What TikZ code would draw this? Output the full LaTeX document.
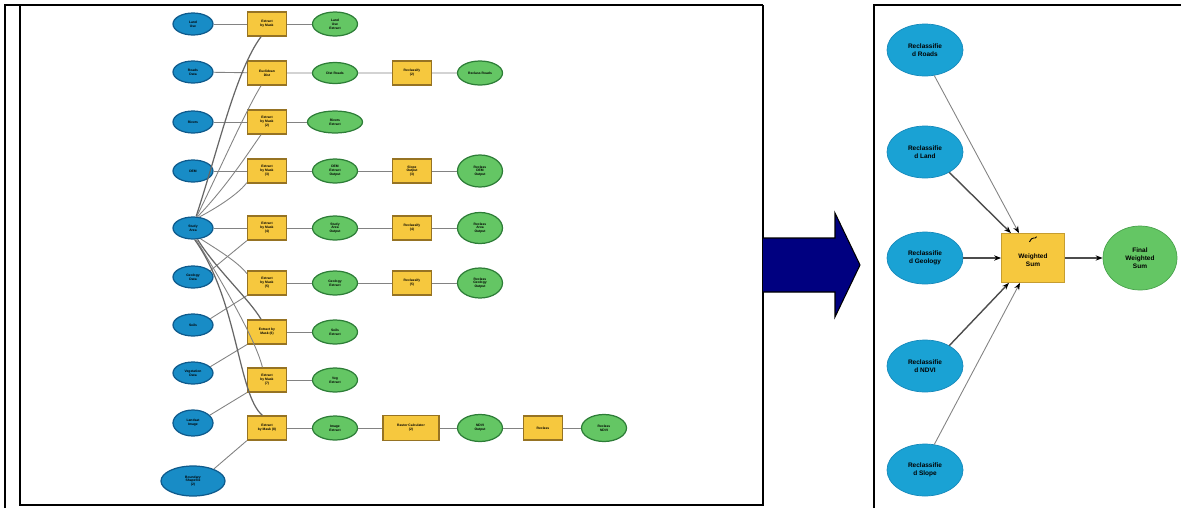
\documentclass[tikz,border=0pt]{standalone}
\usepackage{fontspec}
\setmainfont{Liberation Sans}
\usetikzlibrary{shapes.geometric,arrows.meta}
\newlength{\pxu}\setlength{\pxu}{0.02cm}
\definecolor{inblue}{RGB}{24,140,198}
\definecolor{inblueD}{RGB}{14,90,140}
\definecolor{rblue}{RGB}{26,162,212}
\definecolor{rblueD}{RGB}{20,120,170}
\definecolor{toolY}{RGB}{246,200,62}
\definecolor{toolD}{RGB}{150,115,35}
\definecolor{outG}{RGB}{100,198,100}
\definecolor{outGD}{RGB}{45,125,55}
\definecolor{linkG}{RGB}{130,130,130}
\definecolor{navyA}{RGB}{0,0,128}
\begin{document}
\begin{tikzpicture}[x=0.02cm,y=-0.02cm,
  frameline/.style={line width=1.3pt,black},
  inL/.style={ellipse,fill=inblue,draw=inblueD,line width=0.7pt,inner sep=0pt,minimum width=40\pxu,minimum height=22\pxu,font=\fontsize{1.9}{2.2}\selectfont\bfseries,align=center},
  toolL/.style={rectangle,fill=toolY,draw=toolD,line width=0.7pt,inner sep=0pt,minimum width=39\pxu,minimum height=24\pxu,font=\fontsize{1.9}{2.2}\selectfont\bfseries,align=center},
  outL/.style={ellipse,fill=outG,draw=outGD,line width=0.7pt,inner sep=0pt,minimum width=45\pxu,minimum height=24\pxu,font=\fontsize{1.9}{2.2}\selectfont\bfseries,align=center},
  linkL/.style={draw=linkG,line width=0.5pt},
  linkLd/.style={draw=gray!80!black,line width=0.7pt},
  inR/.style={ellipse,fill=rblue,draw=rblueD!60!rblue,line width=0.4pt,inner sep=0pt,minimum width=76\pxu,minimum height=52\pxu,font=\fontsize{3.7}{4.5}\selectfont\bfseries,align=center},
  toolR/.style={rectangle,fill=toolY,draw=toolD!50!toolY,line width=0.4pt,inner sep=0pt,minimum width=63\pxu,minimum height=49\pxu,font=\fontsize{3.7}{4.5}\selectfont\bfseries,align=center},
  outR/.style={ellipse,fill=outG,draw=outGD!50!outG,line width=0.4pt,inner sep=0pt,minimum width=74\pxu,minimum height=64\pxu,font=\fontsize{3.7}{4.5}\selectfont\bfseries,align=center},
  linkR/.style={draw=linkG,line width=0.5pt,-{Stealth[length=4pt,width=3pt,color=black]}},
  linkRd/.style={draw=gray!60!black,line width=0.8pt,-{Stealth[length=4pt,width=3pt,color=black]}}
]
\useasboundingbox (0,0) rectangle (1181,508);

% frames
\draw[frameline] (5,508) -- (5,5) -- (763,5);
\draw[frameline] (20,5) -- (20,505) -- (763,505) -- (763,5);
\draw[frameline] (874,508) -- (874,5) -- (1181,5);

% block arrow
\draw[fill=navyA,draw=black,line width=0.6pt] (763,238) -- (835,238) -- (835,213) -- (860,265) -- (835,317) -- (835,292) -- (763,292);

% ---------- left model ----------
\node[inL] (b1) at (193,24) {Land\\Use};
\node[inL] (b2) at (193,72) {Roads\\Data};
\node[inL] (b3) at (193,122) {Rivers};
\node[inL] (b4) at (193,171) {DEM};
\node[inL] (hub) at (193,228) {Study\\Area};
\node[inL] (b6) at (193,277) {Geology\\Data};
\node[inL] (b7) at (193,325) {Soils};
\node[inL] (b8) at (193,373) {Vegetation\\Data};
\node[inL,minimum height=26\pxu] (b9) at (193,423) {Landsat\\Image};
\node[inL,minimum width=64\pxu,minimum height=30\pxu] (b10) at (193,481) {Boundary\\Shapefile\\(2)};

\node[toolL] (t1) at (267,24) {Extract\\by Mask};
\node[toolL] (t2) at (267,73) {Euclidean\\Dist};
\node[toolL] (t3) at (267,122) {Extract\\by Mask\\(2)};
\node[toolL] (t4) at (267,171) {Extract\\by Mask\\(3)};
\node[toolL] (t5) at (267,228) {Extract\\by Mask\\(4)};
\node[toolL] (t6) at (267,283) {Extract\\by Mask\\(5)};
\node[toolL] (t7) at (267,332) {Extract by\\Mask (6)};
\node[toolL] (t8) at (267,380) {Extract\\by Mask\\(7)};
\node[toolL] (t9) at (267,428) {Extract\\by Mask (8)};

\node[outL] (o1) at (335,24) {Land\\Use\\Extract};
\node[outL,minimum height=21\pxu] (o2) at (335,73) {Dist Roads};
\node[outL,minimum width=55\pxu,minimum height=22\pxu] (o3) at (335,122) {Rivers\\Extract};
\node[outL] (o4) at (335,171) {DEM\\Extract\\Output};
\node[outL] (o5) at (335,228) {Study\\Area\\Output};
\node[outL] (o6) at (335,283) {Geology\\Extract};
\node[outL] (o7) at (335,332) {Soils\\Extract};
\node[outL] (o8) at (335,380) {Veg\\Extract};
\node[outL] (o9) at (335,428) {Image\\Extract};

\node[toolL] (t2b) at (412,73) {Reclassify\\(2)};
\node[toolL] (t4b) at (412,171) {Slope\\Output\\(3)};
\node[toolL] (t5b) at (412,228) {Reclassify\\(4)};
\node[toolL] (t6b) at (412,283) {Reclassify\\(5)};
\node[toolL,minimum width=56\pxu,minimum height=25\pxu] (t9b) at (411,428) {Raster Calculator\\(2)};
\node[toolL] (t9c) at (543,428) {\\Reclass};

\node[outL,minimum height=24\pxu] (o2b) at (480,73) {Reclass Roads};
\node[outL,minimum height=32\pxu] (o4b) at (480,171) {Reclass\\DEM\\Output};
\node[outL,minimum height=31\pxu] (o5b) at (480,228) {Reclass\\Area\\Output};
\node[outL,minimum height=30\pxu] (o6b) at (480,283) {Reclass\\Geology\\Output};
\node[outL,minimum height=27\pxu] (o9b) at (480,428) {NDVI\\Output};
\node[outL,minimum height=27\pxu] (o9c) at (604,428) {Reclass\\NDVI};

% horizontal chains
\draw[linkL] (b1) -- (t1) -- (o1);
\draw[linkL] (b2) -- (t2) -- (o2) -- (t2b) -- (o2b);
\draw[linkL] (b3) -- (t3) -- (o3);
\draw[linkL] (b4) -- (t4) -- (o4) -- (t4b) -- (o4b);
\draw[linkL] (hub) -- (t5) -- (o5) -- (t5b) -- (o5b);
\draw[linkL] (t6) -- (o6) -- (t6b) -- (o6b);
\draw[linkL] (t7) -- (o7);
\draw[linkL] (t8) -- (o8);
\draw[linkL] (t9) -- (o9) -- (t9b) -- (o9b) -- (t9c) -- (o9c);

% diagonal inputs from lower ellipses
\draw[linkL] (b6.20) -- (t5.south west);
\draw[linkL] (b7.20) -- (t6.south west);
\draw[linkL] (b8.20) -- (t7.south west);
\draw[linkL] (b9.25) -- (t8.south west);
\draw[linkL] (b10.30) -- (t9.south west);

% curved links from the hub
\draw[linkLd] (hub.75) .. controls (218,150) and (236,70) .. (t1.-115);
\draw[linkL] (hub.72) .. controls (222,165) and (246,110) .. (t2.-115);
\draw[linkL] (hub.68) .. controls (228,185) and (250,150) .. (t3.-115);
\draw[linkL] (hub.60) .. controls (222,205) and (240,192) .. (t4.-150);
\draw[linkL] (hub.-55) .. controls (218,250) and (238,262) .. (t6.155);
\draw[linkLd] (hub.-68) .. controls (215,268) and (250,300) .. (t7.115);
\draw[linkL] (hub.-75) .. controls (222,282) and (256,340) .. (t8.110);
\draw[linkLd] (hub.-82) .. controls (238,300) and (238,395) .. (t9.110);

% ---------- right model ----------
\node[inR] (r1) at (925,50) {Reclassifie\\d Roads};
\node[inR] (r2) at (925,152) {Reclassifie\\d Land};
\node[inR] (r3) at (925,258) {Reclassifie\\d Geology};
\node[inR] (r4) at (925,366) {Reclassifie\\d NDVI};
\node[inR] (r5) at (925,470) {Reclassifie\\d Slope};
\node[toolR] (ws) at (1033,258) {\\[1pt]Weighted\\Sum};
\node[outR] (fs) at (1140,258) {Final\\Weighted\\Sum};
\draw[line width=0.5pt] ([shift={(-2pt,-5pt)}]ws.north) .. controls ([shift={(0pt,-1pt)}]ws.north) and ([shift={(1pt,-4pt)}]ws.north) .. ([shift={(2pt,-2pt)}]ws.north);

\draw[linkR] (r1.-70) -- ([xshift=-14\pxu]ws.north);
\draw[linkRd] (r2.-40) -- ([xshift=-22\pxu]ws.north);
\draw[linkRd] (r3) -- (ws);
\draw[linkRd] (r4.40) -- ([xshift=-24\pxu]ws.south);
\draw[linkR] (r5.70) -- ([xshift=-13\pxu]ws.south);
\draw[linkRd] (ws) -- (fs);
\end{tikzpicture}
\end{document}
